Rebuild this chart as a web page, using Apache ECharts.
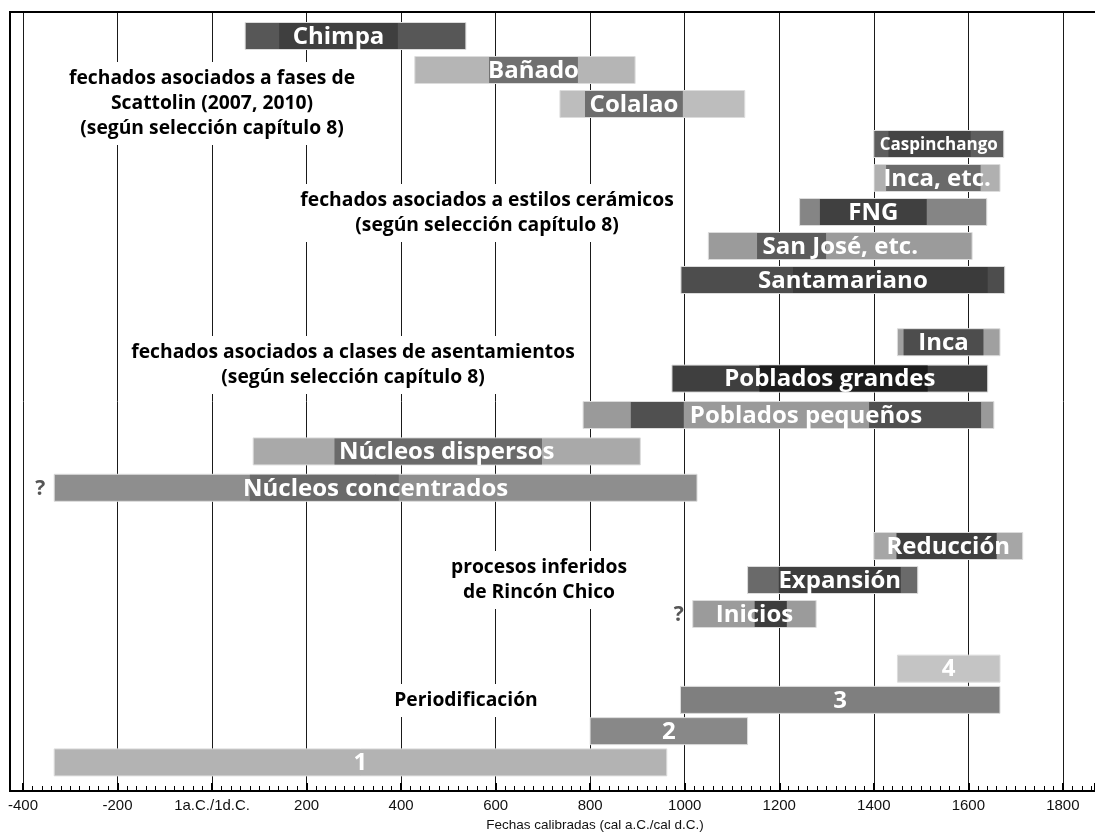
<!DOCTYPE html>
<html>
<head>
<meta charset="utf-8">
<script src="https://cdn.jsdelivr.net/npm/echarts@6/dist/echarts.min.js"></script>
<style>
  html, body { margin: 0; padding: 0; background: #fff; }
  #chart { width: 1095px; height: 833px; }
</style>
</head>
<body>
<div id="chart"></div>
<script>
// ---------------- DATA (years, cal a.C. negative / cal d.C. positive) ----------------
const phaseNames = ['Chimpa', 'Bañado', 'Colalao'];
const phaseOuter = [[70, 537], [429, 895], [736, 1127]];
const phaseInner = [[142, 393], [586, 774], [789, 996]];

const styleNames = ['Caspinchango', 'Inca, etc.', 'FNG', 'San José, etc.', 'Santamariano'];
const styleOuter = [[1400, 1675], [1401, 1667], [1243, 1639], [1050, 1608], [992, 1677]];
const styleInner = [[1431, 1605], [1426, 1626], [1286, 1512], [1153, 1299], [1229, 1641]];

const settlementNames = ['Inca', 'Poblados grandes', 'Poblados pequeños', 'Núcleos dispersos', 'Núcleos concentrados'];
const settlementOuter = [[1450, 1667], [973, 1641], [785, 1654], [87, 906], [-334, 1026]];
const settlementInner = [[1463, 1632], [1158, 1514], [886, 1627], [259, 698], [80, 395]];
const settlementGap = [null, null, [998, 1390], null, null];

const processNames = ['Reducción', 'Expansión', 'Inicios'];
const processOuter = [[1400, 1715], [1133, 1493], [1017, 1278]];
const processInner = [[1448, 1660], [1199, 1457], [1148, 1216]];

const periodNames = ['4', '3', '2', '1'];
const periodRanges = [[1450, 1667], [991, 1667], [800, 1133], [-334, 962]];

const uncertainStart = ['Núcleos concentrados', 'Inicios'];

const tickValues = [-400, -200, 0, 200, 400, 600, 800, 1000, 1200, 1400, 1600, 1800];
const zeroLabel = '1a.C./1d.C.';
const axisTitle = 'Fechas calibradas (cal a.C./cal d.C.)';

const notes = {
  phases: 'fechados asociados a fases de\nScattolin (2007, 2010)\n(según selección capítulo 8)',
  styles: 'fechados asociados a estilos cerámicos\n(según selección capítulo 8)',
  settlements: 'fechados asociados a clases de asentamientos\n(según selección capítulo 8)',
  processes: 'procesos inferidos\nde Rincón Chico',
  periods: 'Periodificación'
};

// ---------------- STYLES ----------------
const barStyle = {
  'Chimpa': { outer: '#575757', inner: '#3f3f3f', anchor: 'inner' },
  'Bañado': { outer: '#b5b5b5', inner: '#707070', anchor: 'inner' },
  'Colalao': { outer: '#bdbdbd', inner: '#6e6e6e', anchor: 'inner' },
  'Caspinchango': { outer: '#5e5e5e', inner: '#444444', anchor: 'outer', size: 17 },
  'Inca, etc.': { outer: '#b0b0b0', inner: '#6a6a6a', anchor: 'outer' },
  'FNG': { outer: '#858585', inner: '#404040', anchor: 'inner' },
  'San José, etc.': { outer: '#9b9b9b', inner: '#5c5c5c', anchor: 'outer' },
  'Santamariano': { outer: '#4d4d4d', inner: '#3b3b3b', anchor: 'outer' },
  'Inca': { outer: '#a0a0a0', inner: '#4d4d4d', anchor: 'inner' },
  'Poblados grandes': { outer: '#3f3f3f', inner: '#1c1c1c', anchor: 'outer' },
  'Poblados pequeños': { outer: '#9a9a9a', inner: '#505050', gap: '#9a9a9a', anchor: 'inner' },
  'Núcleos dispersos': { outer: '#a9a9a9', inner: '#6a6a6a', anchor: 'outer' },
  'Núcleos concentrados': { outer: '#8e8e8e', inner: '#6a6a6a', anchor: 'outer' },
  'Reducción': { outer: '#a6a6a6', inner: '#404040', anchor: 'outer' },
  'Expansión': { outer: '#6a6a6a', inner: '#3d3d3d', anchor: 'inner' },
  'Inicios': { outer: '#9b9b9b', inner: '#3d3d3d', anchor: 'outer' },
  '4': { outer: '#c4c4c4', anchor: 'outer' },
  '3': { outer: '#7f7f7f', anchor: 'outer' },
  '2': { outer: '#888888', anchor: 'outer' },
  '1': { outer: '#b3b3b3', anchor: 'outer' }
};

const FONT = '"Open Sans", "Noto Sans", sans-serif';
const BAR_H = 27;
const X_MIN = -400, X_MAX = 1868;

function buildData(names, outer, inner, gap) {
  return names.map((n, i) => {
    const inn = inner ? inner[i] : null;
    const g = gap ? gap[i] : null;
    return [outer[i][0], outer[i][1],
            inn ? inn[0] : NaN, inn ? inn[1] : NaN,
            g ? g[0] : NaN, g ? g[1] : NaN, i];
  });
}

function makeRender(names) {
  return function (params, api) {
    const idx = api.value(6);
    const name = names[idx];
    const st = barStyle[name] || { outer: '#888' };
    const yc = api.coord([X_MIN, idx])[1];
    const top = yc - BAR_H / 2;
    const xs = (v) => api.coord([v, idx])[0];
    const children = [];
    const o0 = xs(api.value(0)), o1 = xs(api.value(1));
    children.push({ type: 'rect', shape: { x: o0, y: top, width: o1 - o0, height: BAR_H },
      style: { fill: st.outer, stroke: '#dcdcdc', lineWidth: 1 } });
    const i0v = api.value(2), i1v = api.value(3);
    let i0 = null, i1 = null;
    if (!isNaN(i0v) && !isNaN(i1v)) {
      i0 = xs(i0v); i1 = xs(i1v);
      children.push({ type: 'rect', shape: { x: i0, y: top + 0.5, width: i1 - i0, height: BAR_H - 1 },
        style: { fill: st.inner } });
    }
    const g0v = api.value(4), g1v = api.value(5);
    if (!isNaN(g0v) && !isNaN(g1v)) {
      const g0 = xs(g0v), g1 = xs(g1v);
      children.push({ type: 'rect', shape: { x: g0, y: top + 0.5, width: g1 - g0, height: BAR_H - 1 },
        style: { fill: st.gap } });
    }
    const cx = (st.anchor === 'inner' && i0 !== null) ? (i0 + i1) / 2 : (o0 + o1) / 2;
    children.push({ type: 'text', style: { text: name, x: cx, y: yc + 1,
      fill: '#ffffff', align: 'center', verticalAlign: 'middle',
      font: 'bold ' + (st.size || 24) + 'px ' + FONT } });
    if (uncertainStart.indexOf(name) >= 0) {
      children.push({ type: 'text', style: { text: '?', x: o0 - 9, y: yc + 1,
        fill: '#555555', align: 'right', verticalAlign: 'middle',
        font: 'bold 21px ' + FONT } });
    }
    return { type: 'group', children: children };
  };
}

const groups = [
  { names: phaseNames, data: buildData(phaseNames, phaseOuter, phaseInner), top: 19, height: 102 },
  { names: styleNames, data: buildData(styleNames, styleOuter, styleInner), top: 127, height: 170 },
  { names: settlementNames, data: buildData(settlementNames, settlementOuter, settlementInner, settlementGap), top: 324, height: 182 },
  { names: processNames, data: buildData(processNames, processOuter, processInner), top: 529, height: 102 },
  { names: periodNames, data: buildData(periodNames, periodRanges), top: 653, height: 125 }
];

const grids = [{ left: 23, right: 0, top: 12, bottom: 42 }];
const xAxes = [{
  type: 'value', gridIndex: 0, min: X_MIN, max: X_MAX, interval: 200,
  axisLine: { show: true, lineStyle: { color: '#000', width: 2 } },
  axisTick: { show: true, inside: true, length: 8, lineStyle: { color: '#000', width: 2 } },
  minorTick: { show: true, splitNumber: 10, length: 5, lineStyle: { color: '#000', width: 1 } },
  splitLine: { show: true, lineStyle: { color: '#1a1a1a', width: 1 } },
  axisLabel: {
    showMaxLabel: false, margin: 7, color: '#111', fontSize: 15,
    fontFamily: '"Liberation Sans", Arial, sans-serif',
    formatter: (v) => (tickValues.indexOf(v) < 0 ? '' : (v === 0 ? zeroLabel : String(v)))
  }
}];
const yAxes = [{ type: 'value', gridIndex: 0, show: false, min: 0, max: 1 }];
const series = [];
groups.forEach((g, k) => {
  grids.push({ left: 23, right: 0, top: g.top, height: g.height });
  xAxes.push({ type: 'value', gridIndex: k + 1, min: X_MIN, max: X_MAX, show: false });
  yAxes.push({ type: 'category', gridIndex: k + 1, data: g.names, inverse: true, show: false });
  series.push({
    type: 'custom', xAxisIndex: k + 1, yAxisIndex: k + 1,
    renderItem: makeRender(g.names), encode: { x: [0, 1], y: 6 }, data: g.data, z: 3, clip: false
  });
});

function note(text, x, y) {
  return {
    type: 'text', x: x, y: y, z: 10,
    style: {
      text: text, fill: '#000', align: 'center', verticalAlign: 'top',
      font: 'bold 19.3px ' + FONT, lineHeight: 25,
      backgroundColor: '#fff', padding: [4, 6]
    }
  };
}

const option = {
  animation: false,
  backgroundColor: '#fff',
  grid: grids,
  xAxis: xAxes,
  yAxis: yAxes,
  series: series,
  graphic: [
    { type: 'polyline', z: 20, shape: { points: [[1095, 12], [10, 12], [10, 791], [1095, 791]] },
      style: { stroke: '#000', lineWidth: 2, fill: null } },
    note(notes.phases, 212, 62),
    note(notes.styles, 487, 184),
    note(notes.settlements, 353, 336),
    note(notes.processes, 539, 551),
    note(notes.periods, 466, 684),
    { type: 'text', x: 595, y: 818, z: 10,
      style: { text: axisTitle, fill: '#111', align: 'center', verticalAlign: 'top',
        font: '13.5px "Liberation Sans", Arial, sans-serif' } }
  ]
};

const chart = echarts.init(document.getElementById('chart'), null, { renderer: 'canvas' });
chart.setOption(option);
</script>
</body>
</html>
